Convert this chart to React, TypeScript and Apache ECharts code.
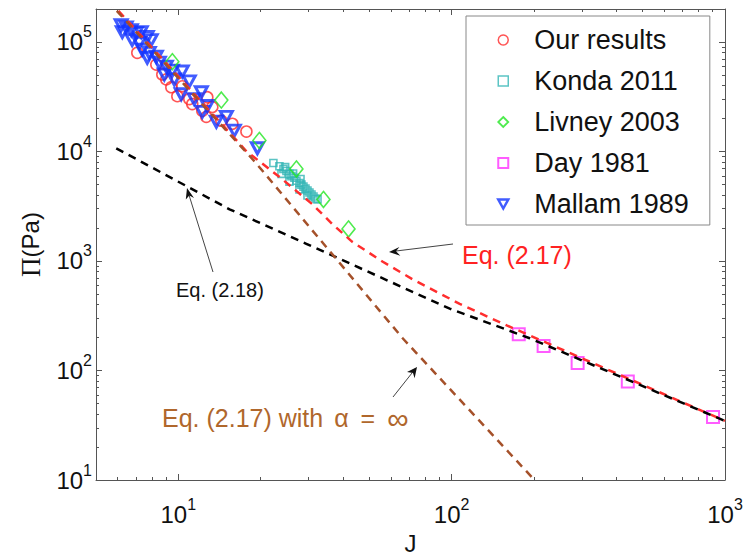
import React, { useEffect, useRef } from 'react';
import * as echarts from 'echarts';

// ---- data (J, Π in Pa) ----
const ourResults: number[][] = [
  [7.08, 79600], [8.31, 62100], [8.74, 50500], [9.04, 45500], [9.43, 38600],
  [9.92, 32000], [10.34, 39400], [10.97, 30100], [11.25, 27100], [12.24, 23500],
  [12.77, 31300], [12.66, 20700], [13.32, 25500], [14.37, 19100], [15.77, 17900],
  [17.75, 15200],
];
const konda2011: number[][] = [
  [22.28, 7840], [23.44, 7330], [24.25, 6920], [24.87, 6640], [25.51, 6250],
  [25.94, 5960], [26.6, 5750], [27.05, 5410], [27.75, 5150], [28.22, 4980],
  [28.7, 4780], [29.19, 4580], [29.69, 4400], [30.19, 4220], [30.71, 4050],
  [31.23, 3880], [31.76, 3720], [32.31, 3650], [23.85, 6250], [25.51, 5300],
  [27.75, 4490], [29.69, 3960], [24.6, 7200], [26.3, 6300], [28.0, 5600],
];
const livney2003: number[][] = [
  [9.51, 66100], [14.37, 29500], [19.8, 12600], [27.05, 6920], [33.97, 3650], [41.95, 1960],
];
const day1981: number[][] = [
  [176, 214], [217, 167], [289, 117], [441, 79.2], [904, 37.6],
];
const mallam1989: number[][] = [
  [6.18, 142000], [6.45, 136000], [6.73, 128000], [6.24, 123000], [7.02, 120500],
  [7.32, 123000], [6.78, 104000], [7.2, 98000], [7.7, 111000], [7.96, 104000],
  [7.38, 84800], [7.83, 79600], [7.7, 71800], [8.31, 73300], [8.52, 64700],
  [9.04, 59600], [8.89, 50500], [9.51, 54800], [10.34, 53700], [9.67, 45500],
  [10.97, 43700], [10.25, 33300], [12.14, 34700], [11.44, 30100], [12.77, 26000],
  [12.24, 23000], [13.78, 18700], [14.99, 20700], [16.03, 15500], [19.47, 10700],
];
const eq217: number[][] = [
  [5.58, 239000], [11.9, 30100], [17.75, 10050], [23.4, 5880], [30.96, 3290],
  [36.6, 2173], [43.3, 1496], [55.8, 989], [71.9, 682], [107, 406], [159, 258],
  [182, 223], [1000, 34.6],
];
const eq218: number[][] = [
  [5.93, 10690], [7.83, 7360], [15.4, 2965], [29.4, 1436], [98.4, 367], [193, 197], [1000, 34.6],
];
const eq217Inf: number[][] = [
  [5.5, 239000], [18.97, 8170], [66.2, 197], [201, 10],
];

const xMajorTicks = [10, 100, 1000];
const yMajorTicks = [10, 100, 1000, 10000, 100000];
const xMinorTicks = [6, 7, 8, 9, 20, 30, 40, 50, 60, 70, 80, 90, 200, 300, 400, 500, 600, 700, 800, 900];
const yMinorTicks = [
  20, 30, 40, 50, 60, 70, 80, 90,
  200, 300, 400, 500, 600, 700, 800, 900,
  2000, 3000, 4000, 5000, 6000, 7000, 8000, 9000,
  20000, 30000, 40000, 50000, 60000, 70000, 80000, 90000,
];
const X_MIN = 5;
const X_MAX = 1000;
const Y_MIN = 10;
const Y_MAX = 200000;

const FONT = "'Liberation Sans', Arial, Helvetica, sans-serif";
const AXIS_COLOR = '#555';

const powLabel = (v: number) => `{b|10}{e|${Math.round(Math.log10(v))}}`;
const labelRich = {
  b: { fontSize: 24, lineHeight: 24, fontFamily: FONT, color: '#111', verticalAlign: 'bottom' },
  e: { fontSize: 16, lineHeight: 16, fontFamily: FONT, color: '#111', verticalAlign: 'bottom', padding: [0, 0, 14, 0] },
};

function makeAxis(kind: 'x' | 'y', position: string, major: boolean, extra: any = {}) {
  const isX = kind === 'x';
  return {
    type: 'log',
    logBase: 10,
    min: isX ? X_MIN : Y_MIN,
    max: isX ? X_MAX : Y_MAX,
    position,
    splitLine: { show: false },
    axisLine: { show: major, lineStyle: { color: AXIS_COLOR, width: 1 } },
    axisTick: {
      show: true,
      inside: true,
      length: major ? 6 : 3,
      customValues: major ? (isX ? xMajorTicks : yMajorTicks) : (isX ? xMinorTicks : yMinorTicks),
      lineStyle: { color: AXIS_COLOR, width: 1 },
    },
    axisLabel: { show: false },
    ...extra,
  };
}

export default function App() {
  const ref = useRef<HTMLDivElement>(null);
  useEffect(() => {
    if (!ref.current) return;
    const chart = echarts.init(ref.current, null, { renderer: 'svg' });
    const hollow = (c: string, w: number) => ({ color: 'rgba(0,0,0,0)', borderColor: c, borderWidth: w });
    const triDown = 'path://M0,0L2,0L1,1.8Z';
    const brown = '#b0672c';
    const option: any = {
      animation: false,
      backgroundColor: '#fff',
      grid: { left: 96, right: 23, top: 9, bottom: 73, containLabel: false },
      xAxis: [
        makeAxis('x', 'bottom', true, {
          name: 'J',
          nameLocation: 'middle',
          nameGap: 51,
          nameTextStyle: { fontFamily: FONT, fontSize: 24, color: '#111' },
          axisLabel: {
            show: true, customValues: xMajorTicks, margin: 22,
            formatter: powLabel, rich: labelRich,
          },
        }),
        makeAxis('x', 'bottom', false),
        makeAxis('x', 'top', true),
        makeAxis('x', 'top', false),
      ],
      yAxis: [
        makeAxis('y', 'left', true, {
          name: '{p|Π}{t|(Pa)}',
          nameLocation: 'middle',
          nameGap: 52,
          nameTextStyle: {
            rich: {
              p: { fontFamily: "'Liberation Serif', 'DejaVu Serif', serif", fontSize: 27, color: '#111' },
              t: { fontFamily: FONT, fontSize: 24, color: '#111' },
            },
          },
          axisLabel: {
            show: true, customValues: yMajorTicks, margin: 4,
            formatter: powLabel, rich: labelRich,
          },
        }),
        makeAxis('y', 'left', false),
        makeAxis('y', 'right', true),
        makeAxis('y', 'right', false),
      ],
      legend: {
        left: 466,
        top: 16,
        orient: 'vertical',
        itemWidth: 10,
        itemHeight: 10,
        itemGap: 11,
        padding: [9, 21, 6, 31],
        borderColor: '#888',
        borderWidth: 1,
        backgroundColor: '#fff',
        textStyle: { fontFamily: FONT, fontSize: 27, color: '#111', lineHeight: 30, padding: [0, 0, 0, 21] },
        data: [
          { name: 'Our results', icon: 'circle', itemStyle: hollow('#ff2a2a', 1.5) },
          { name: 'Konda 2011', icon: 'rect', itemStyle: hollow('#33b5b5', 1.5) },
          { name: 'Livney 2003', icon: 'diamond', itemStyle: hollow('#22e622', 1.8) },
          { name: 'Day 1981', icon: 'rect', itemStyle: hollow('#ff33ff', 2) },
          { name: 'Mallam 1989', icon: triDown, itemStyle: hollow('#1133ff', 2.5) },
        ],
      },
      series: [
        { type: 'scatter', name: 'Our results', data: ourResults, symbol: 'circle', symbolSize: 11, itemStyle: hollow('#ff2a2a', 1.6), z: 2 },
        { type: 'scatter', name: 'Mallam 1989', data: mallam1989, symbol: triDown, symbolSize: [12, 11], itemStyle: hollow('#1133ff', 3), z: 2 },
        { type: 'scatter', name: 'Konda 2011', data: konda2011, symbol: 'rect', symbolSize: 7, itemStyle: hollow('#33b5b5', 1.6), z: 2 },
        { type: 'scatter', name: 'Livney 2003', data: livney2003, symbol: 'diamond', symbolSize: [13, 16], itemStyle: hollow('#22e622', 1.6), z: 2 },
        { type: 'scatter', name: 'Day 1981', data: day1981, symbol: 'rect', symbolSize: 12, itemStyle: hollow('#ff33ff', 2), z: 2 },
        { type: 'line', name: 'Eq. (2.17)', data: eq217, symbol: 'none', showSymbol: false, silent: true, lineStyle: { color: '#ff2e2e', width: 2.5, type: [8, 6] }, z: 3 },
        { type: 'line', name: 'Eq. (2.18)', data: eq218, symbol: 'none', showSymbol: false, silent: true, lineStyle: { color: '#000', width: 2.5, type: [8, 6] }, z: 4 },
        { type: 'line', name: 'Eq. (2.17) with α=∞', data: eq217Inf, symbol: 'none', showSymbol: false, silent: true, lineStyle: { color: '#a5512a', width: 2.5, type: [8, 6] }, z: 5 },
      ],
      graphic: [
        { type: 'text', x: 462, y: 255, z: 10, style: { text: 'Eq. (2.17)', fill: '#ff2222', fontSize: 25, fontFamily: FONT, verticalAlign: 'middle', align: 'left' } },
        { type: 'text', x: 176, y: 290, z: 10, style: { text: 'Eq. (2.18)', fill: '#111', fontSize: 20, fontFamily: FONT, verticalAlign: 'middle', align: 'left' } },
        {
          type: 'text', x: 162, y: 418, z: 10,
          style: {
            text: '{t|Eq. (2.17) with }{a|α}{q|=}{i|∞}',
            verticalAlign: 'middle', align: 'left',
            rich: {
              t: { fill: brown, color: brown, fontSize: 25, fontFamily: FONT },
              a: { fill: brown, color: brown, fontSize: 25, fontFamily: FONT, padding: [0, 0, 0, 4] },
              q: { fill: brown, color: brown, fontSize: 25, fontFamily: FONT, padding: [0, 12, 0, 12] },
              i: { fill: brown, color: brown, fontSize: 30, fontFamily: FONT },
            },
          },
        },
        { type: 'line', z: 10, shape: { x1: 213, y1: 272, x2: 189, y2: 195 }, style: { stroke: '#444', lineWidth: 1 } },
        { type: 'polygon', z: 10, shape: { points: [[187, 188], [194, 198], [189.3, 195.5], [185.8, 199.6]] }, style: { fill: '#111' } },
        { type: 'line', z: 10, shape: { x1: 453, y1: 244, x2: 396, y2: 251 }, style: { stroke: '#444', lineWidth: 1 } },
        { type: 'polygon', z: 10, shape: { points: [[389, 252], [399.4, 247], [396, 251.2], [400.3, 255.7]] }, style: { fill: '#111' } },
        { type: 'line', z: 10, shape: { x1: 393, y1: 397, x2: 412, y2: 373 }, style: { stroke: '#444', lineWidth: 1 } },
        { type: 'polygon', z: 10, shape: { points: [[417, 367], [414.6, 378.3], [413, 373], [407, 372]] }, style: { fill: '#111' } },
      ],
    };
    chart.setOption(option);
    return () => chart.dispose();
  }, []);
  return <div ref={ref} style={{ position: 'fixed', left: 0, top: 0, width: 748, height: 560, background: '#fff' }} />;
}
